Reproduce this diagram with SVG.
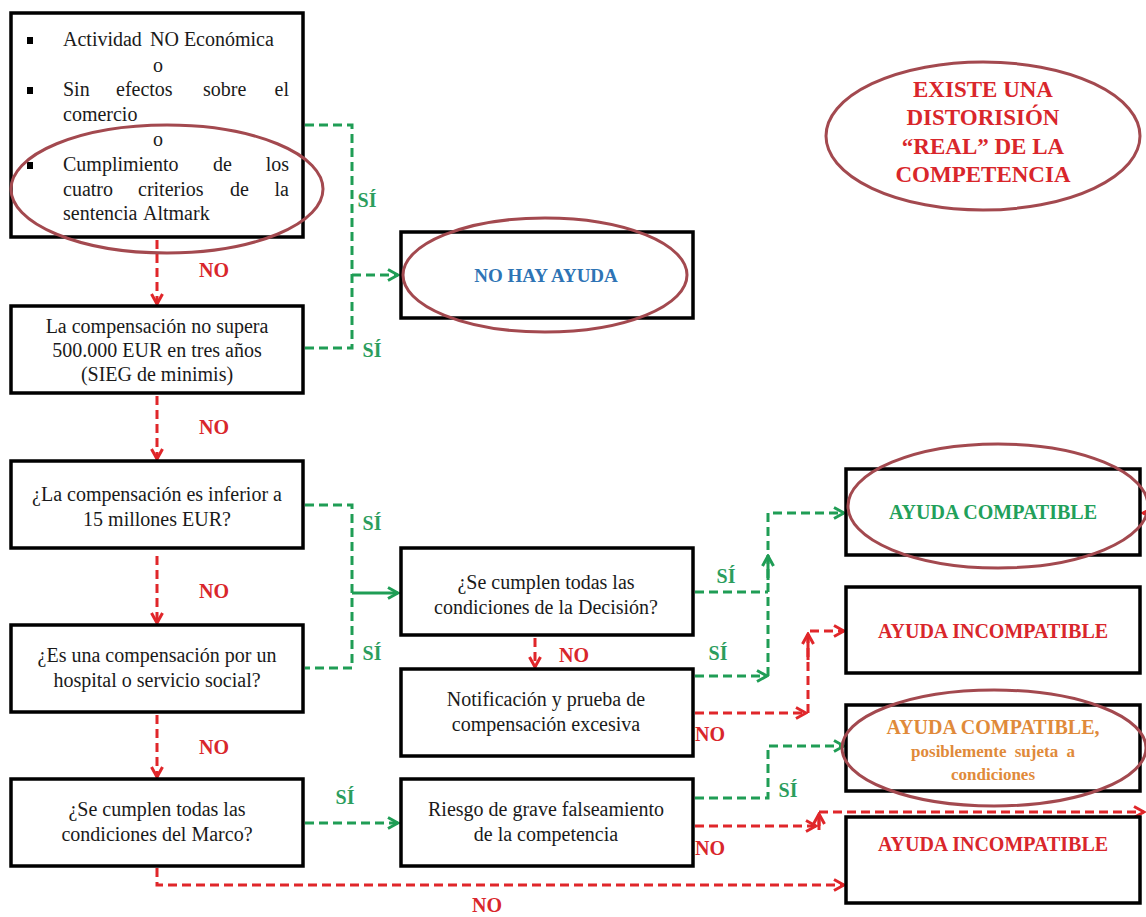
<svg xmlns="http://www.w3.org/2000/svg" width="1146" height="917" viewBox="0 0 1146 917">
<defs>
<style>
.box{fill:#fff;stroke:#000;stroke-width:3.5}
.t{font-family:"Liberation Serif","Times New Roman",serif;font-size:20px;fill:#1a1a1a}
.c{text-anchor:middle}
.e{text-anchor:end}
.b{font-weight:bold}
.ov{fill:none;stroke:#a3494f;stroke-width:3}
.g{fill:none;stroke:#1f9d55;stroke-width:3;stroke-dasharray:9 5}
.gs{fill:none;stroke:#1f9d55;stroke-width:3}
.r{fill:none;stroke:#e0262a;stroke-width:3;stroke-dasharray:9 5}
.lg{fill:#2b9d5d}
.lr{fill:#d9262b}
</style>
<marker id="ag" viewBox="0 0 14 14" refX="12" refY="7" markerWidth="14" markerHeight="14" markerUnits="userSpaceOnUse" orient="auto">
<path d="M2,1.5 L12,7 L2,12.5" fill="none" stroke="#1f9d55" stroke-width="3" stroke-dasharray="none"/>
</marker>
<marker id="ar" viewBox="0 0 14 14" refX="12" refY="7" markerWidth="14" markerHeight="14" markerUnits="userSpaceOnUse" orient="auto">
<path d="M2,1.5 L12,7 L2,12.5" fill="none" stroke="#e0262a" stroke-width="3" stroke-dasharray="none"/>
</marker>
</defs>
<rect width="1146" height="917" fill="#fff"/>

<g id="connectors">
<!-- left column red NO -->
<path class="r" d="M157,240 V304" marker-end="url(#ar)"/>
<path class="r" d="M157,396 V459" marker-end="url(#ar)"/>
<path class="r" d="M157,556 V623" marker-end="url(#ar)"/>
<path class="r" d="M157,715 V777" marker-end="url(#ar)"/>
<path class="r" d="M157,868 V885 H844" marker-end="url(#ar)"/>
<!-- green to NO HAY AYUDA -->
<path class="g" d="M305,125 H352 V348 H305"/>
<path class="g" d="M352,275 H398" marker-end="url(#ag)"/>
<!-- green to Decision -->
<path class="g" d="M305,505 H352 V668 H305"/>
<path class="gs" d="M352,593 H398" marker-end="url(#ag)"/>
<!-- Marco to Riesgo -->
<path class="g" d="M305,823 H398" marker-end="url(#ag)"/>
<!-- Decision NO -->
<path class="r" d="M535,638 V667" marker-end="url(#ar)"/>
<!-- Decision / Notificacion SI -->
<path class="g" d="M695,592 H768"/>
<path class="g" d="M695,676 H767" marker-end="url(#ag)"/>
<path class="g" d="M768,676 V513 H844" marker-end="url(#ag)"/>
<path class="gs" d="M768,580 V556" marker-end="url(#ag)"/>
<!-- Notificacion NO -->
<path class="r" d="M695,713 H806" marker-end="url(#ar)"/>
<path class="r" d="M808,713 V631 H844" marker-end="url(#ar)"/>
<path class="r" d="M808,660 V634" marker-end="url(#ar)" style="stroke-dasharray:none"/>
<!-- Riesgo SI -->
<path class="g" d="M695,798 H768 V746 H844" marker-end="url(#ag)"/>
<!-- Riesgo NO -->
<path class="r" d="M695,826 H816" marker-end="url(#ar)"/>
<path class="r" d="M819,826 V812 H1144" marker-end="url(#ar)"/>
<path class="r" d="M819,830 V814" marker-end="url(#ar)" style="stroke-dasharray:none"/>
<!-- incoming from right edge -->
<path class="r" d="M1152,513 H1143" marker-end="url(#ar)" style="stroke-dasharray:none"/>
<!-- labels -->
<g class="t b c lr">
<text x="214" y="277">NO</text>
<text x="214" y="434">NO</text>
<text x="214" y="598">NO</text>
<text x="214" y="754">NO</text>
<text x="487" y="912">NO</text>
<text x="574" y="662">NO</text>
<text x="710" y="741">NO</text>
<text x="710" y="855">NO</text>
</g>
<g class="t b c lg">
<text x="367" y="207">SÍ</text>
<text x="372" y="357">SÍ</text>
<text x="372" y="530">SÍ</text>
<text x="372" y="660">SÍ</text>
<text x="345" y="804">SÍ</text>
<text x="726" y="583">SÍ</text>
<text x="718" y="660">SÍ</text>
<text x="788" y="797">SÍ</text>
</g>
</g>

<g id="n1">
<rect class="box" x="11" y="13" width="292" height="224"/>
<rect x="27" y="37" width="6" height="7" fill="#000"/>
<rect x="27" y="87" width="6" height="7" fill="#000"/>
<rect x="27" y="162" width="6" height="7" fill="#000"/>
<g class="t">
<text x="63" y="46">Actividad</text>
<text x="150" y="46">NO Económica</text>
<text x="158" y="72" class="c">o</text>
<text x="63" y="96">Sin</text>
<text x="116" y="96">efectos</text>
<text x="203" y="96">sobre</text>
<text x="289" y="96" class="e">el</text>
<text x="63" y="121">comercio</text>
<text x="158" y="146" class="c">o</text>
<text x="63" y="171">Cumplimiento</text>
<text x="213" y="171">de</text>
<text x="289" y="171" class="e">los</text>
<text x="63" y="196">cuatro</text>
<text x="138" y="196">criterios</text>
<text x="230" y="196">de</text>
<text x="289" y="196" class="e">la</text>
<text x="63" y="220">sentencia</text>
<text x="143" y="220">Altmark</text>
</g>
<ellipse class="ov" cx="167" cy="189" rx="156" ry="64"/>
</g>

<g id="n2">
<rect class="box" x="11" y="306" width="292" height="87"/>
<g class="t c">
<text x="157" y="333">La compensación  no supera</text>
<text x="157" y="357">500.000 EUR en tres años</text>
<text x="157" y="381">(SIEG de minimis)</text>
</g>
</g>

<g id="n3">
<rect class="box" x="11" y="461" width="292" height="87"/>
<g class="t c">
<text x="157" y="501">¿La compensación es inferior a</text>
<text x="157" y="526">15 millones EUR?</text>
</g>
</g>

<g id="n4">
<rect class="box" x="11" y="625" width="292" height="87"/>
<g class="t c">
<text x="157" y="662">¿Es una compensación por un</text>
<text x="157" y="687">hospital o servicio social?</text>
</g>
</g>

<g id="n5">
<rect class="box" x="11" y="779" width="292" height="87"/>
<g class="t c">
<text x="157" y="816">¿Se cumplen todas las</text>
<text x="157" y="841">condiciones del Marco?</text>
</g>
</g>

<g id="nohay">
<rect class="box" x="401" y="232" width="292" height="86"/>
<text class="t b c" x="546" y="282" style="fill:#2e74b5;font-size:19px">NO HAY AYUDA</text>
<ellipse class="ov" cx="545" cy="275" rx="142" ry="57"/>
</g>

<g id="decision">
<rect class="box" x="401" y="548" width="292" height="87"/>
<g class="t c">
<text x="546" y="589">¿Se cumplen todas las</text>
<text x="546" y="614">condiciones de la Decisión?</text>
</g>
</g>

<g id="notif">
<rect class="box" x="401" y="669" width="292" height="87"/>
<g class="t c">
<text x="546" y="706">Notificación y prueba de</text>
<text x="546" y="731">compensación excesiva</text>
</g>
</g>

<g id="riesgo">
<rect class="box" x="401" y="779" width="292" height="87"/>
<g class="t c">
<text x="546" y="816">Riesgo de grave falseamiento</text>
<text x="546" y="841">de la competencia</text>
</g>
</g>

<g id="compat">
<rect class="box" x="846" y="469" width="294" height="86"/>
<text class="t b c" x="993" y="519" style="fill:#22a05a">AYUDA COMPATIBLE</text>
<ellipse class="ov" cx="998" cy="506" rx="150" ry="62"/>
</g>

<g id="incompat1">
<rect class="box" x="846" y="587" width="294" height="86"/>
<text class="t b c" x="993" y="638" style="fill:#d9262b">AYUDA INCOMPATIBLE</text>
</g>

<g id="compat2">
<rect class="box" x="846" y="705" width="294" height="86"/>
<g class="t b c" style="fill:#e08a3a">
<text x="993" y="734">AYUDA COMPATIBLE,</text>
<text x="993" y="757" style="font-size:17px;word-spacing:4px">posiblemente sujeta a</text>
<text x="993" y="780" style="font-size:17px">condiciones</text>
</g>
<ellipse class="ov" cx="994" cy="748" rx="152" ry="58"/>
</g>

<g id="incompat2">
<rect class="box" x="846" y="817" width="294" height="86"/>
<text class="t b c" x="993" y="851" style="fill:#d9262b">AYUDA INCOMPATIBLE</text>
</g>

<g id="existe">
<ellipse class="ov" cx="983" cy="136" rx="157" ry="74"/>
<g class="t b c" style="fill:#d9262b;font-size:23px">
<text x="983" y="97">EXISTE UNA</text>
<text x="983" y="125">DISTORISIÓN</text>
<text x="983" y="154">“REAL” DE LA</text>
<text x="983" y="182">COMPETENCIA</text>
</g>
</g>
</svg>
